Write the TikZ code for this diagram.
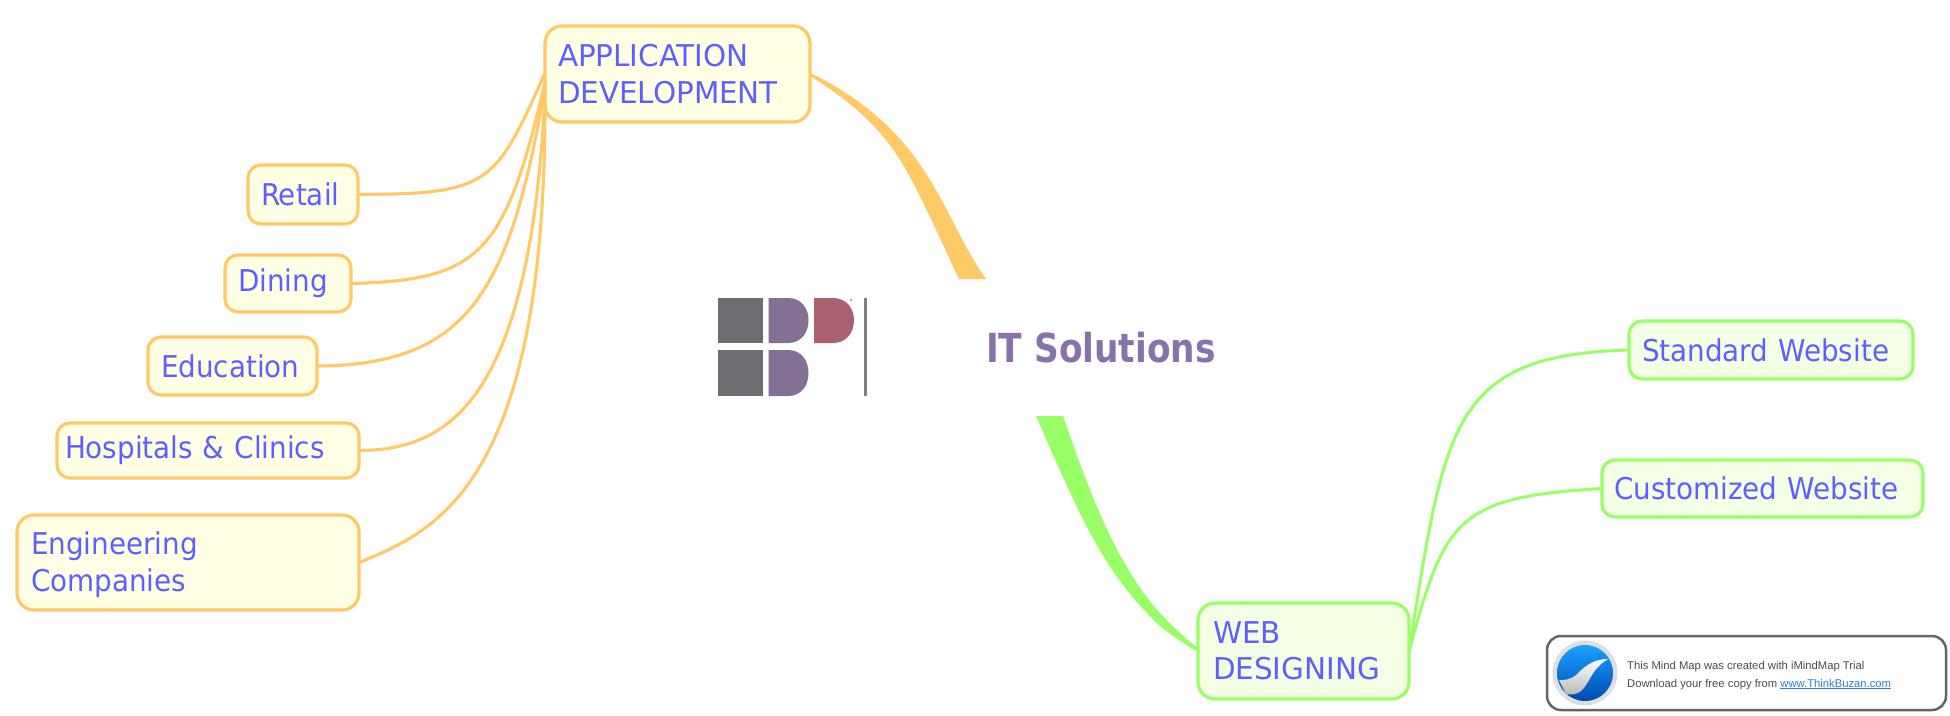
\documentclass[tikz,border=0pt]{standalone}
\usepackage{fontspec}
\setmainfont[FakeStretch=1.03]{DejaVu Sans Condensed}
\newfontfamily\capsfont[FakeStretch=1.09]{DejaVu Sans Condensed}
\newfontfamily\titlefont[FakeStretch=0.955]{DejaVu Sans Condensed Bold}
\newfontfamily\arialfont{Liberation Sans}
\definecolor{orangeline}{HTML}{FFC966}
\definecolor{greenline}{HTML}{99FF66}
\definecolor{orangefill}{HTML}{FFFFE6}
\definecolor{greenfill}{HTML}{F4FFE6}
\definecolor{labelblue}{HTML}{5F5FFF}
\definecolor{titlepurple}{HTML}{8673AB}
\definecolor{logogrey}{HTML}{6D6E71}
\definecolor{logopurple}{HTML}{837094}
\definecolor{logored}{HTML}{AB6070}
\definecolor{markgrey}{HTML}{666666}
\definecolor{linkblue}{HTML}{2A80D8}
\tikzset{
  x=1pt,y=-1pt,
  mapbox/.style={draw,rectangle,rounded corners=13pt,line width=3.2pt,outer sep=0pt,inner ysep=0pt,
    align=left,text=labelblue,anchor=north west,font=\fontsize{30}{36.5}\selectfont},
  obox/.style={mapbox,draw=orangeline,fill=orangefill},
  gbox/.style={mapbox,draw=greenline,fill=greenfill},
  bigcorner/.style={rounded corners=17pt},
  othin/.style={draw=orangeline,line width=3.1pt},
  gthin/.style={draw=greenline,line width=3pt},
  ofat/.style={fill=orangeline,draw=none},
  gfat/.style={fill=greenline,draw=none},
  markline/.style={anchor=base west,inner sep=0pt,text=black!70,font=\arialfont\fontsize{11.25}{14}\selectfont},
}
\begin{document}
\begin{tikzpicture}
\useasboundingbox (0,0) rectangle (1950,715);
\fill[white] (0,0) rectangle (1950,715);
% nodes
\node[obox,bigcorner,minimum width=265pt,minimum height=96pt,text width=239pt,inner xsep=13pt] (app) at (545,26) {\capsfont APPLICATION\\DEVELOPMENT};
\node[obox,minimum width=110pt,minimum height=59pt,text width=84pt,inner xsep=13pt] (retail) at (248,165) {Retail};
\node[obox,minimum width=126pt,minimum height=57pt,text width=100pt,inner xsep=13pt] (dining) at (225,255) {Dining};
\node[obox,minimum width=169pt,minimum height=58pt,text width=143pt,inner xsep=13pt] (education) at (148,337) {Education};
\node[obox,minimum width=302pt,minimum height=55pt,text width=286pt,inner xsep=8pt] (hospitals) at (57,423) {Hospitals \& Clinics};
\node[obox,bigcorner,minimum width=342pt,minimum height=95pt,text width=314pt,inner xsep=14pt] (engineering) at (17,515) {\rule{0pt}{27pt}Engineering\\Companies};
\node[gbox,bigcorner,minimum width=211pt,minimum height=96pt,text width=181pt,inner xsep=15pt] (web) at (1198,603) {\capsfont WEB\\DESIGNING};
\node[gbox,minimum width=284pt,minimum height=58pt,text width=258pt,inner xsep=13pt] (standard) at (1629,321) {Standard Website};
\node[gbox,minimum width=321pt,minimum height=57pt,text width=297pt,inner xsep=12pt] (custom) at (1602,460) {Customized Website};
\node[anchor=base west,inner sep=0pt,text=titlepurple,font=\titlefont\fontsize{40}{40}\selectfont] (title) at (986,362) {IT Solutions};
% tapered main branches, free ends at named coordinates
\coordinate (oa) at (986,279);
\coordinate (ob) at (959,279);
\coordinate (ga) at (1063,416);
\coordinate (gb) at (1036,416);
\path[ofat] ([yshift=1pt]app.east) .. controls (860,97) and (900,130) .. (930,180) .. controls (950,212) and (965,250) .. (oa) -- (ob) .. controls (945,250) and (930,215) .. (910,177) .. controls (890,140) and (865,110) .. ([yshift=-2pt]app.east) -- cycle;
\path[gfat] (ga) .. controls (1085,478) and (1112,560) .. (1160,613) .. controls (1172,626) and (1185,638) .. ([yshift=3pt]web.west) -- ([yshift=-1pt]web.west) .. controls (1175,638) and (1160,628) .. (1147,613) .. controls (1100,565) and (1075,505) .. (gb) -- cycle;
% thin branches
\draw[othin] (retail.east) .. controls (490,194) and (495,185) .. ([yshift=1pt]app.west);
\draw[othin] (dining.east) .. controls (480,280) and (505,255) .. ([yshift=-8pt]app.west);
\draw[othin] (education.east) .. controls (470,365) and (510,290) .. ([yshift=-13pt]app.west);
\draw[othin] (hospitals.east) .. controls (450,450) and (530,400) .. ([yshift=-20pt]app.west);
\draw[othin] (engineering.east) .. controls (440,530) and (545,480) .. ([yshift=-30pt]app.west);
\draw[gthin] (web.east) .. controls (1445,425) and (1450,355) .. (standard.west);
\draw[gthin] (web.east) .. controls (1445,520) and (1455,497) .. (custom.west);
% logo
\fill[logogrey] (717.5,298) rectangle (763,343);
\fill[logogrey] (717.5,350) rectangle (763,396);
\fill[logopurple] (768.5,298) -- (788,298) .. controls (801,298) and (808.5,308) .. (808.5,320) .. controls (808.5,333) and (801,343) .. (788,343) -- (768.5,343) -- cycle;
\fill[logopurple] (768.5,350) -- (788,350) .. controls (801,350) and (808.5,360) .. (808.5,373) .. controls (808.5,386) and (801,396) .. (788,396) -- (768.5,396) -- cycle;
\fill[logored] (814,298) -- (833,298) .. controls (846,298) and (854,308) .. (854,320) .. controls (854,333) and (846,343) .. (833,343) -- (814,343) -- cycle;
\fill[gray!60] (851,300) circle (1.6);
\fill[gray] (864,298) rectangle (867,396);
% watermark
\draw[markgrey,line width=2.5pt,rounded corners=14pt,fill=white] (1547,636) rectangle (1946,710);
\fill[gray!25] (1585,673) circle (32.5);
\shade[top color=cyan!60!blue!90,bottom color=blue!60!cyan!70!black] (1585,673) circle (28);
\shade[top color=white,bottom color=gray!60] (1608,659) .. controls (1592,659) and (1583,668) .. (1576,675) .. controls (1570,680) and (1564,680) .. (1559,680) -- (1566,694) .. controls (1590,698) and (1585,672) .. (1608,659) -- cycle;
\node[markline] (mark1) at (1627,669) {This Mind Map was created with iMindMap Trial};
\node[markline] (mark2) at (1627,687) {Download your free copy from \textcolor{linkblue}{\underline{www.ThinkBuzan.com}}};
\end{tikzpicture}
\end{document}
